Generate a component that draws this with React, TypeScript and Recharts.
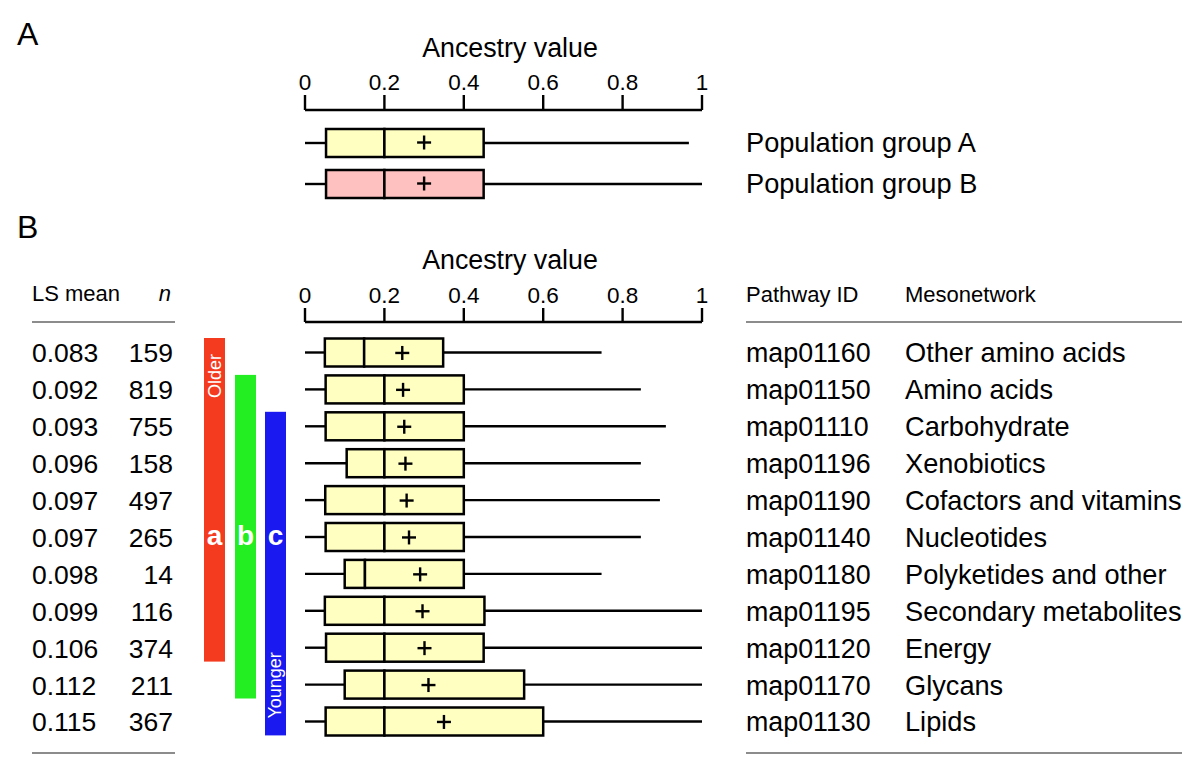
import { ComposedChart, Bar, Scatter, XAxis, YAxis, ReferenceArea } from 'recharts'

const FONT = '"Liberation Sans", Arial, Helvetica, sans-serif'

// panel A
const groupNames = ['Population group A', 'Population group B']
const groupMin = [0, 0]
const groupQ1 = [0.053, 0.053]
const groupMedian = [0.2, 0.2]
const groupQ3 = [0.45, 0.45]
const groupMax = [0.967, 1]
const groupMean = [0.3, 0.3]

// panel B
const pathwayIds = ['map01160', 'map01150', 'map01110', 'map01196', 'map01190', 'map01140', 'map01180', 'map01195', 'map01120', 'map01170', 'map01130']
const mesonetworks = ['Other amino acids', 'Amino acids', 'Carbohydrate', 'Xenobiotics', 'Cofactors and vitamins', 'Nucleotides', 'Polyketides and other', 'Secondary metabolites', 'Energy', 'Glycans', 'Lipids']
const lsMeans = [0.083, 0.092, 0.093, 0.096, 0.097, 0.097, 0.098, 0.099, 0.106, 0.112, 0.115]
const nCounts = [159, 819, 755, 158, 497, 265, 14, 116, 374, 211, 367]
const rowMin = [0, 0, 0, 0, 0, 0, 0, 0, 0, 0, 0]
const rowQ1 = [0.05, 0.052, 0.052, 0.105, 0.051, 0.052, 0.1, 0.05, 0.053, 0.1, 0.052]
const rowMedian = [0.149, 0.2, 0.2, 0.2, 0.2, 0.2, 0.151, 0.2, 0.2, 0.2, 0.2]
const rowQ3 = [0.348, 0.4, 0.4, 0.4, 0.4, 0.4, 0.4, 0.452, 0.45, 0.552, 0.6]
const rowMax = [0.747, 0.846, 0.909, 0.846, 0.894, 0.846, 0.747, 1, 1, 1, 1]
const rowMean = [0.245, 0.247, 0.25, 0.253, 0.256, 0.262, 0.29, 0.296, 0.301, 0.311, 0.35]

// significance groups
const sigLetters = ['a', 'b', 'c']
const sigFrom = ['map01160', 'map01150', 'map01110']
const sigTo = ['map01120', 'map01170', 'map01130']
const sigColors = ['#F43A1F', '#22EE22', '#1A1AF0']
const sigBarX = [204, 235, 265]
const letterRow = 'map01140'

const axisTicks = [0, 0.2, 0.4, 0.6, 0.8, 1]

const toRows = (names: string[], mn: number[], q1: number[], med: number[], q3: number[], mx: number[], mean: number[]) =>
  names.map((name, i) => ({
    name,
    pad: mn[i],
    lowW: q1[i] - mn[i],
    lowBox: med[i] - q1[i],
    highBox: q3[i] - med[i],
    highW: mx[i] - q3[i],
    mean: mean[i],
  }))

const dataA = toRows(groupNames, groupMin, groupQ1, groupMedian, groupQ3, groupMax, groupMean)
const dataB = toRows(pathwayIds, rowMin, rowQ1, rowMedian, rowQ3, rowMax, rowMean)

const fmtTick = (v: number) => (v === 0 || v === 1 ? String(v) : v.toFixed(1))

const Whisker = (p: any) => (
  <line x1={p.x} x2={p.x + p.width} y1={p.y + p.height / 2} y2={p.y + p.height / 2} stroke="#000" strokeWidth={2.4} />
)
const Empty = () => <g />
const boxShape = (fillFor: (name: string) => string) => (p: any) => (
  <rect x={p.x} y={p.y} width={p.width} height={p.height} fill={fillFor(p.payload?.name)} stroke="#000" strokeWidth={2.5} />
)
const Plus = (p: any) => (
  <g stroke="#000" strokeWidth={2.4}>
    <line x1={p.cx - 7} x2={p.cx + 7} y1={p.cy} y2={p.cy} />
    <line x1={p.cx} x2={p.cx} y1={p.cy - 7} y2={p.cy + 7} />
  </g>
)

const fillA = (name: string) => (name === 'Population group B' ? '#FFC0C0' : '#FFFFC2')
const fillB = () => '#FFFFC2'

const GroupTick = (p: any) => (
  <text x={746} y={p.y + 9.5} fontSize={27.2} fontFamily={FONT} fill="#000">{p.payload.value}</text>
)

const RowTick = (p: any) => {
  const i = pathwayIds.indexOf(p.payload.value)
  const y = p.y + 9.5
  return (
    <g fontFamily={FONT} fill="#000">
      <text x={32} y={y} fontSize={26.5}>{lsMeans[i].toFixed(3)}</text>
      <text x={173} y={y} fontSize={26.5} textAnchor="end">{nCounts[i]}</text>
      <text x={746} y={y} fontSize={26.8}>{pathwayIds[i]}</text>
      <text x={905} y={y} fontSize={27.2}>{mesonetworks[i]}</text>
    </g>
  )
}

const sigShape = (k: number) => (p: any) => {
  const from = pathwayIds.indexOf(sigFrom[k])
  const to = pathwayIds.indexOf(sigTo[k])
  const band = p.height / (to - from + 1)
  const top = p.y + 3.5
  const bottom = p.y + p.height - 5
  const x = sigBarX[k]
  const cx = x + 10.5
  const ly = p.y + (pathwayIds.indexOf(letterRow) - from + 0.5) * band + 8
  return (
    <g fontFamily={FONT}>
      <rect x={x} y={top} width={21} height={bottom - top} fill={sigColors[k]} />
      <text x={cx} y={ly} textAnchor="middle" fontSize={28} fontWeight="bold" fill="#fff">{sigLetters[k]}</text>
      {k === 0 && (
        <text x={cx} y={top + 38} transform={`rotate(-90 ${cx} ${top + 38})`} textAnchor="middle" dominantBaseline="central" fontSize={18} fill="#fff">Older</text>
      )}
      {k === 2 && (
        <text x={cx} y={bottom - 50} transform={`rotate(-90 ${cx} ${bottom - 50})`} textAnchor="middle" dominantBaseline="central" fontSize={18} fill="#fff">Younger</text>
      )}
    </g>
  )
}

const xAxisProps = {
  type: 'number' as const,
  orientation: 'top' as const,
  domain: [0, 1],
  ticks: axisTicks,
  tickFormatter: fmtTick,
  height: 40,
  tickMargin: 5,
  interval: 0 as const,
  axisLine: { stroke: '#000', strokeWidth: 2.4 },
  tickLine: { stroke: '#000', strokeWidth: 2.4 },
  tick: { fill: '#000', fontSize: 22.5, fontFamily: FONT },
}

export default function App() {
  const gray = '#8C8C8C'
  return (
    <div style={{ position: 'absolute', left: 0, top: 0, width: 1200, height: 770, background: '#fff', fontFamily: FONT }}>
      <svg width={1200} height={770} style={{ position: 'absolute', left: 0, top: 0 }} fontFamily={FONT}>
        <text x={17} y={45} fontSize={32}>A</text>
        <text x={17} y={238} fontSize={32}>B</text>
        <text x={510} y={57} fontSize={26.8} textAnchor="middle">Ancestry value</text>
        <text x={510} y={269} fontSize={26.8} textAnchor="middle">Ancestry value</text>
        <text x={32} y={301} fontSize={22}>LS mean</text>
        <text x={171} y={301} fontSize={22} fontStyle="italic" textAnchor="end">n</text>
        <text x={746} y={302} fontSize={22}>Pathway ID</text>
        <text x={905} y={302} fontSize={22}>Mesonetwork</text>
        <line x1={32} x2={175} y1={322} y2={322} stroke={gray} strokeWidth={2} />
        <line x1={746} x2={1182} y1={322} y2={322} stroke={gray} strokeWidth={2} />
        <line x1={32} x2={175} y1={753} y2={753} stroke={gray} strokeWidth={2} />
        <line x1={746} x2={1182} y1={753} y2={753} stroke={gray} strokeWidth={2} />
      </svg>

      <div style={{ position: 'absolute', left: 0, top: 0 }}>
        <ComposedChart layout="vertical" width={1200} height={209} data={dataA} margin={{ top: 70, right: 498, bottom: 5, left: 0 }}>
          <XAxis {...xAxisProps} tickSize={15} />
          <YAxis type="category" dataKey="name" width={305} axisLine={false} tickLine={false} interval={0} padding={{ top: 12, bottom: 0 }} tick={GroupTick} />
          <Bar dataKey="pad" stackId="b" barSize={28} shape={Empty} isAnimationActive={false} />
          <Bar dataKey="lowW" stackId="b" barSize={28} shape={Whisker} isAnimationActive={false} />
          <Bar dataKey="lowBox" stackId="b" barSize={28} shape={boxShape(fillA)} isAnimationActive={false} />
          <Bar dataKey="highBox" stackId="b" barSize={28} shape={boxShape(fillA)} isAnimationActive={false} />
          <Bar dataKey="highW" stackId="b" barSize={28} shape={Whisker} isAnimationActive={false} />
          <Scatter dataKey="mean" shape={Plus} isAnimationActive={false} />
        </ComposedChart>
      </div>

      <div style={{ position: 'absolute', left: 0, top: 0 }}>
        <ComposedChart layout="vertical" width={1200} height={770} data={dataB} margin={{ top: 282, right: 498, bottom: 29.6, left: 0 }}>
          <XAxis {...xAxisProps} tickSize={14} />
          <YAxis type="category" dataKey="name" width={305} axisLine={false} tickLine={false} interval={0} padding={{ top: 12.5, bottom: 0 }} tick={RowTick} />
          {sigLetters.map((l, k) => (
            <ReferenceArea key={l} y1={sigFrom[k]} y2={sigTo[k]} shape={sigShape(k)} />
          ))}
          <Bar dataKey="pad" stackId="b" barSize={28} shape={Empty} isAnimationActive={false} />
          <Bar dataKey="lowW" stackId="b" barSize={28} shape={Whisker} isAnimationActive={false} />
          <Bar dataKey="lowBox" stackId="b" barSize={28} shape={boxShape(fillB)} isAnimationActive={false} />
          <Bar dataKey="highBox" stackId="b" barSize={28} shape={boxShape(fillB)} isAnimationActive={false} />
          <Bar dataKey="highW" stackId="b" barSize={28} shape={Whisker} isAnimationActive={false} />
          <Scatter dataKey="mean" shape={Plus} isAnimationActive={false} />
        </ComposedChart>
      </div>
    </div>
  )
}
